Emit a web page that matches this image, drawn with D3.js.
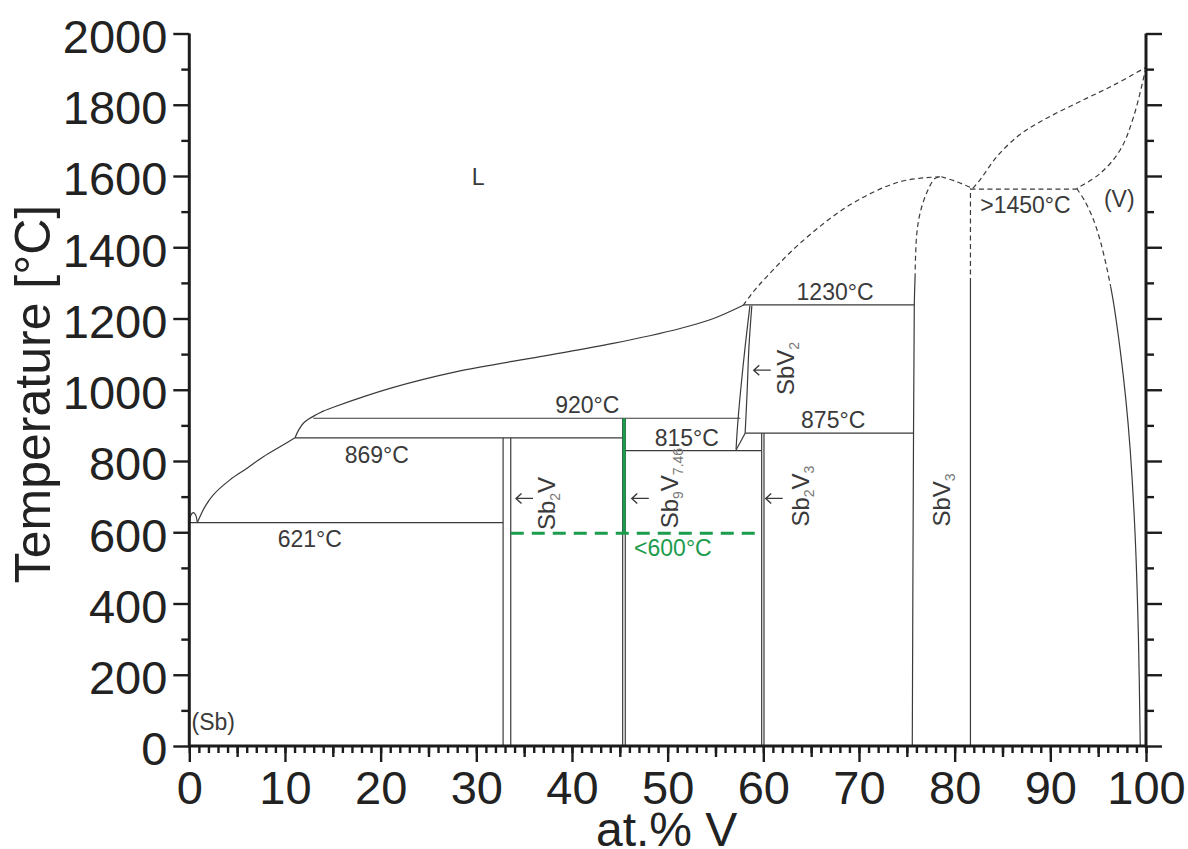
<!DOCTYPE html>
<html>
<head>
<meta charset="utf-8">
<script src="https://cdn.jsdelivr.net/npm/d3@7"></script>
<style>
  body { margin: 0; background: #fff; }
  svg { display: block; }
  text { font-family: "Liberation Sans", Arial, Helvetica, sans-serif; }
</style>
</head>
<body>
<svg id="chart" width="1188" height="849"></svg>
<script>
// ---- data (at.% V, temperature in °C as drawn) ----
const xTickLabels = [0, 10, 20, 30, 40, 50, 60, 70, 80, 90, 100];
const yTickLabels = [0, 200, 400, 600, 800, 1000, 1200, 1400, 1600, 1800, 2000];

// isotherms: [from at.%, to at.%, T]
const isotherms = [
  [0, 32.8, 627],
  [11.05, 45.3, 865],
  [12.96, 57.6, 920],
  [45.55, 59.83, 829],
  [58.1, 75.7, 878],
  [57.9, 75.78, 1238]
];

// compound lines: [at.%, T bottom, T top]
const compounds = [
  [32.8, 0, 865], [33.6, 0, 865],
  [45.3, 0, 920], [45.57, 0, 920],
  [59.83, 0, 878], [60.07, 0, 878],
  [81.65, 0, 1300]
];

// solid curves
const sbArc = [[0, 627], [0.15, 647], [0.4, 655], [0.65, 649], [0.84, 627]];
const liqLow = [[0.84, 627], [1.64, 672], [2.51, 705], [4.25, 747], [6.0, 779], [7.74, 812], [9.48, 840], [11.05, 865]];
const liqHigh = [[11.05, 865], [11.45, 888], [11.92, 906], [12.44, 917], [13.2, 929], [14.0, 940], [15.05, 951],
  [20.98, 1004], [27.95, 1051], [36.66, 1093], [44.3, 1130], [51.3, 1172], [54.8, 1200], [57.9, 1237]];
const sbv2Left = [[58.6, 1236], [58.1, 1121], [57.6, 990], [57.3, 896], [57.15, 833]];
const sbv2Right = [[58.8, 1236], [58.5, 1121], [58.3, 990], [58.1, 878]];
const sbv2Base = [[57.15, 831], [58.1, 878]];
const sbv3LeftSolid = [[75.57, 0], [75.7, 878], [75.78, 1238], [75.86, 1314]];
const vSolvusSolid = [[96.3, 1290], [96.6, 1245], [97.3, 1112], [97.9, 971], [98.35, 831], [98.85, 600], [99.2, 316], [99.4, 0]];

// dashed (estimated) curves
const liqSbV3Left = [[57.9, 1237], [58.95, 1275], [60.35, 1317], [63.83, 1411], [69.06, 1519], [74.29, 1584], [78.6, 1598]];
const liqSbV3Right = [[78.6, 1598], [80.2, 1584], [81.9, 1565]];
const sbv3LeftDash = [[75.86, 1314], [75.92, 1380], [76.05, 1440], [76.38, 1495], [77.08, 1553], [77.94, 1593], [78.6, 1598]];
const sbv3RightDash = [[81.65, 1300], [81.65, 1565]];
const eutecticV = [[81.65, 1563], [92.75, 1563]];
const liqV = [[81.9, 1565], [82.65, 1589], [84.4, 1654], [86.8, 1716], [89.6, 1762], [93.1, 1809], [96.6, 1855], [100, 1905]];
const solV = [[100, 1905], [98.7, 1766], [97.3, 1673], [95.2, 1607], [92.75, 1565]];
const vSolvusDash = [[92.75, 1565], [93.6, 1530], [94.5, 1478], [95.3, 1410], [96.0, 1330], [96.3, 1290]];

// Sb9V7.46 (green)
const greenLine = [[45.45, 597], [45.45, 920]];
const greenDash = [[33.6, 597], [59.3, 597]];

// labels: [text, at.%, T]
const labels = [
  ["L", 30.2, 1575],
  ["(Sb)", 2.5, 45],
  ["621°C", 12.6, 559],
  ["869°C", 19.6, 794],
  ["920°C", 41.6, 936],
  ["815°C", 52.0, 843],
  ["1230°C", 67.5, 1252],
  ["875°C", 67.3, 892],
  [">1450°C", 87.4, 1497],
  ["(V)", 97.2, 1513]
];
const greenLabel = ["<600°C", 50.55, 533];

// vertical phase names: parts [text, subscript?], at.% of baseline, T of start
const phaseNames = [
  [[["Sb", 0], ["2", 1], ["V", 0]], 38.2, 606],
  [[["Sb", 0], ["9", 1], ["V", 0], ["7.46", 1]], 51.1, 611],
  [[["Sb", 0], ["2", 1], ["V", 0], ["3", 1]], 64.8, 616],
  [[["SbV", 0], ["2", 1]], 63.2, 985],
  [[["SbV", 0], ["3", 1]], 79.5, 616]
];
// arrow tips: [at.%, T]
const arrows = [[34.15, 695], [46.25, 695], [60.25, 695], [59.0, 1055]];

// ---- chart ----
const svg = d3.select('#chart');
const x = d3.scaleLinear().domain([0, 100]).range([189.3, 1146]);
const y = d3.scaleLinear().domain([0, 2000]).range([746, 33.5]);

const ink = '#3a3a3a';
const green = '#1b9c4d';

const straight = d3.line().x(d => x(d[0])).y(d => y(d[1]));
const smooth = d3.line().x(d => x(d[0])).y(d => y(d[1])).curve(d3.curveCatmullRom.alpha(0.5));

const diagram = svg.append('g').attr('fill', 'none').attr('stroke', ink).attr('stroke-width', 1.2);

diagram.selectAll('.iso').data(isotherms).enter().append('line')
  .attr('x1', d => x(d[0])).attr('x2', d => x(d[1]))
  .attr('y1', d => y(d[2])).attr('y2', d => y(d[2]));

diagram.selectAll('.cmp').data(compounds).enter().append('line')
  .attr('x1', d => x(d[0])).attr('x2', d => x(d[0]))
  .attr('y1', d => y(d[1])).attr('y2', d => y(d[2]));

[sbArc, liqLow, liqHigh, sbv2Left, sbv2Right, sbv3LeftSolid, vSolvusSolid].forEach(c => {
  diagram.append('path').attr('d', smooth(c));
});
diagram.append('path').attr('d', straight(sbv2Base));

[liqSbV3Left, liqSbV3Right, sbv3LeftDash, liqV, solV, vSolvusDash].forEach(c => {
  diagram.append('path').attr('d', smooth(c)).attr('stroke-dasharray', '5,3.5');
});
[sbv3RightDash, eutecticV].forEach(c => {
  diagram.append('path').attr('d', straight(c)).attr('stroke-dasharray', '5,3.5');
});

// green Sb9V7.46 markings
svg.append('path').attr('d', straight(greenLine)).attr('stroke', green).attr('stroke-width', 3);
svg.append('path').attr('d', straight(greenDash)).attr('stroke', green).attr('stroke-width', 3)
  .attr('stroke-dasharray', '13,8');

// labels
svg.selectAll('.lab').data(labels).enter().append('text')
  .attr('x', d => x(d[1])).attr('y', d => y(d[2]))
  .attr('text-anchor', 'middle').attr('font-size', 23).attr('fill', ink)
  .text(d => d[0]);

svg.append('text')
  .attr('x', x(greenLabel[1])).attr('y', y(greenLabel[2]))
  .attr('text-anchor', 'middle').attr('font-size', 23).attr('fill', green)
  .text(greenLabel[0]);

phaseNames.forEach(p => {
  const t = svg.append('text')
    .attr('transform', `translate(${x(p[1])},${y(p[2])}) rotate(-90)`)
    .attr('font-size', 24).attr('fill', ink);
  let sub = false;
  p[0].forEach(part => {
    const s = t.append('tspan').text(part[0]);
    if (part[1] && !sub) { s.attr('dy', 5).attr('font-size', 14).attr('fill', '#777'); sub = true; }
    else if (part[1]) { s.attr('font-size', 14).attr('fill', '#777'); }
    else if (sub) { s.attr('dy', -5); sub = false; }
  });
});

svg.selectAll('.arr').data(arrows).enter().append('path')
  .attr('transform', d => `translate(${x(d[0])},${y(d[1])})`)
  .attr('d', 'M0,0 H17 M5.5,-5 L0,0 L5.5,5')
  .attr('fill', 'none').attr('stroke', ink).attr('stroke-width', 1.4);

// ---- axes ----
function styleAxis(g) {
  g.select('.domain').remove();
  g.selectAll('line').attr('stroke', '#1c1c1c').attr('stroke-width', 2.4);
  g.selectAll('text').attr('font-size', 47).attr('fill', '#222')
    .style('font-family', '"Liberation Sans", Arial, sans-serif');
}

const bottom = svg.append('g').attr('transform', `translate(0,${y(0)})`);
bottom.append('g').call(d3.axisBottom(x).tickValues(d3.range(0, 101, 1)).tickSize(7).tickFormat('')).call(styleAxis);
bottom.append('g').call(d3.axisBottom(x).tickValues(d3.range(5, 100, 10)).tickSize(11).tickFormat('')).call(styleAxis);
bottom.append('g').call(d3.axisBottom(x).tickValues(xTickLabels).tickSize(16).tickPadding(9).tickFormat(d3.format('d'))).call(styleAxis);

const left = svg.append('g').attr('transform', `translate(${x(0)},0)`);
left.append('g').call(d3.axisLeft(y).tickValues(d3.range(100, 2000, 200)).tickSize(8).tickFormat('')).call(styleAxis);
left.append('g').call(d3.axisLeft(y).tickValues(yTickLabels).tickSize(16).tickPadding(6).tickFormat(d3.format('d'))).call(styleAxis)
  .selectAll('text').attr('dy', '0.4em');

const right = svg.append('g').attr('transform', `translate(${x(100)},0)`);
right.append('g').call(d3.axisRight(y).tickValues(d3.range(100, 2000, 200)).tickSize(8).tickFormat('')).call(styleAxis);
right.append('g').call(d3.axisRight(y).tickValues(yTickLabels).tickSize(16).tickFormat('')).call(styleAxis);

// axis lines
svg.append('line').attr('x1', x(0)).attr('x2', x(100)).attr('y1', y(0)).attr('y2', y(0))
  .attr('stroke', '#1c1c1c').attr('stroke-width', 3);
svg.append('line').attr('x1', x(0)).attr('x2', x(0)).attr('y1', y(0) + 1.5).attr('y2', y(2000))
  .attr('stroke', '#1c1c1c').attr('stroke-width', 3);
svg.append('line').attr('x1', x(100)).attr('x2', x(100)).attr('y1', y(0) + 1.5).attr('y2', y(2000))
  .attr('stroke', '#1c1c1c').attr('stroke-width', 3);

// titles
svg.append('text')
  .attr('transform', `translate(50,394) rotate(-90)`)
  .attr('text-anchor', 'middle').attr('font-size', 50).attr('fill', '#222')
  .text('Temperature [°C]');
svg.append('text')
  .attr('x', 666.7).attr('y', 846)
  .attr('text-anchor', 'middle').attr('font-size', 48).attr('fill', '#222')
  .text('at.% V');
</script>
</body>
</html>
